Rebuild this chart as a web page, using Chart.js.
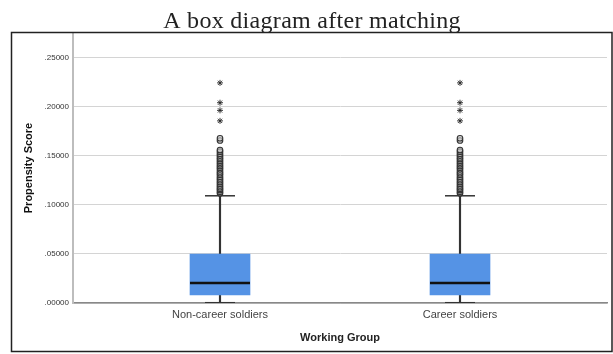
<!DOCTYPE html>
<html>
<head>
<meta charset="utf-8">
<script src="https://cdn.jsdelivr.net/npm/chart.js@4/dist/chart.umd.min.js"></script>
<style>
  html, body { margin: 0; padding: 0; background: #fff; }
</style>
</head>
<body>
<canvas id="boxChart" width="613" height="354"></canvas>
<script>
// values
const groups = ["Non-career soldiers", "Career soldiers"];
const q1 = [0.0082, 0.0082];
const median = [0.0204, 0.0204];
const q3 = [0.0497, 0.0497];
const whiskerLow = [0.0003, 0.0003];
const whiskerHigh = [0.1092, 0.1092];
const outliers = [
  [0.1118, 0.1132, 0.1150, 0.1163, 0.1180, 0.1197, 0.1215, 0.1232, 0.1251, 0.1268, 0.1286, 0.1305,
   0.1322, 0.1340, 0.1361, 0.1378, 0.1395, 0.1412, 0.1430, 0.1448, 0.1466, 0.1483, 0.1502, 0.1520,
   0.1541, 0.1558, 0.1655, 0.1678],
  [0.1118, 0.1132, 0.1150, 0.1163, 0.1180, 0.1197, 0.1215, 0.1232, 0.1251, 0.1268, 0.1286, 0.1305,
   0.1322, 0.1340, 0.1361, 0.1378, 0.1395, 0.1412, 0.1430, 0.1448, 0.1466, 0.1483, 0.1502, 0.1520,
   0.1541, 0.1558, 0.1655, 0.1678]
];
const extremes = [
  [0.1855, 0.1962, 0.2040, 0.2242],
  [0.1855, 0.1962, 0.2040, 0.2242]
];
const chartTitle = "A box diagram after matching";
const yTitle = "Propensity Score";
const xTitle = "Working Group";

function pos(i) { return i + 1; }

const boxData = groups.map((g, i) => ({ x: pos(i), y: [q1[i], q3[i]] }));
const whiskerData = [];
groups.forEach((g, i) => {
  whiskerData.push({ x: pos(i), y: [q3[i], whiskerHigh[i]] });
  whiskerData.push({ x: pos(i), y: [whiskerLow[i], q1[i]] });
});
const medianData = groups.map((g, i) => ({ x: pos(i), y: median[i] }));
const capData = [];
groups.forEach((g, i) => {
  capData.push({ x: pos(i), y: whiskerHigh[i] });
  capData.push({ x: pos(i), y: whiskerLow[i] });
});
const outlierData = [];
outliers.forEach((list, i) => list.forEach(v => outlierData.push({ x: pos(i), y: v })));
const extremeData = [];
extremes.forEach((list, i) => list.forEach(v => extremeData.push({ x: pos(i), y: v })));

const framePlugin = {
  id: "frame",
  afterDraw(chart) {
    const ctx = chart.ctx;
    ctx.save();
    ctx.strokeStyle = "#222";
    ctx.lineWidth = 1.5;
    ctx.strokeRect(11.5, 32.5, 600.5, 319);
    ctx.fillStyle = "#222";
    ctx.font = "24px 'Liberation Serif'";
    ctx.letterSpacing = "0.3px";
    ctx.textAlign = "center";
    ctx.textBaseline = "alphabetic";
    ctx.fillText(chartTitle, 312, 28);
    ctx.restore();
  }
};

const ctx = document.getElementById("boxChart").getContext("2d");
new Chart(ctx, {
  type: "bar",
  data: {
    datasets: [
      {
        type: "scatter", label: "extreme", data: extremeData, order: 0,
        pointStyle: "star", radius: 3, borderWidth: 0.9, borderColor: "#222", backgroundColor: "#222"
      },
      {
        type: "scatter", label: "outlier", data: outlierData, order: 1,
        pointStyle: "circle", radius: 2.8, borderWidth: 1.1, borderColor: "#333", backgroundColor: "rgba(200,200,200,0.6)"
      },
      {
        type: "scatter", label: "median", data: medianData, order: 2,
        pointStyle: "line", radius: 30, borderWidth: 2.5, borderColor: "#111"
      },
      {
        type: "scatter", label: "caps", data: capData, order: 3,
        pointStyle: "line", radius: 15, borderWidth: 1.5, borderColor: "#333"
      },
      {
        label: "box", data: boxData, order: 4, grouped: false,
        barThickness: 60, backgroundColor: "#5593e5", borderWidth: 0
      },
      {
        label: "whisker", data: whiskerData, order: 5, grouped: false,
        barThickness: 1.5, backgroundColor: "#333", borderWidth: 0
      }
    ]
  },
  options: {
    responsive: false,
    animation: false,
    layout: { autoPadding: false, padding: { top: 33, right: 6, bottom: 0, left: 0 } },
    plugins: { legend: { display: false }, tooltip: { enabled: false }, title: { display: false } },
    scales: {
      x: {
        type: "linear",
        min: 0.3875,
        max: 2.6125,
        offset: false,
        grid: { display: false, offset: false, drawTicks: false },
        border: { display: true, color: "#888", width: 1.5 },
        afterBuildTicks: scale => { scale.ticks = groups.map((g, i) => ({ value: pos(i) })); },
        afterFit: scale => {
          scale.height = 51;
          scale.paddingLeft = 0;
          scale.paddingRight = 0;
        },
        ticks: {
          padding: 5,
          color: "#444",
          font: { family: "Liberation Sans", size: 11 },
          callback: v => groups[v - 1] || ""
        },
        title: {
          display: true, text: xTitle, color: "#222",
          font: { family: "Liberation Sans", size: 11, weight: "bold" },
          padding: { top: 0, bottom: 9.7 }
        }
      },
      y: {
        min: 0,
        max: 0.275,
        grid: { color: "#d4d4d4", lineWidth: 1, drawTicks: false },
        border: { display: true, color: "#bdbdbd", width: 2 },
        afterFit: scale => { scale.width = 73; },
        ticks: {
          stepSize: 0.05,
          includeBounds: false,
          padding: 4,
          color: "#333",
          font: { family: "Liberation Sans", size: 8 },
          callback: v => v.toFixed(5).replace(/^0/, "")
        },
        title: {
          display: true, text: yTitle, color: "#111",
          font: { family: "Liberation Sans", size: 11, weight: "bold" },
          padding: { top: 22.4, bottom: 0 }
        }
      }
    }
  },
  plugins: [framePlugin]
});
</script>
</body>
</html>
